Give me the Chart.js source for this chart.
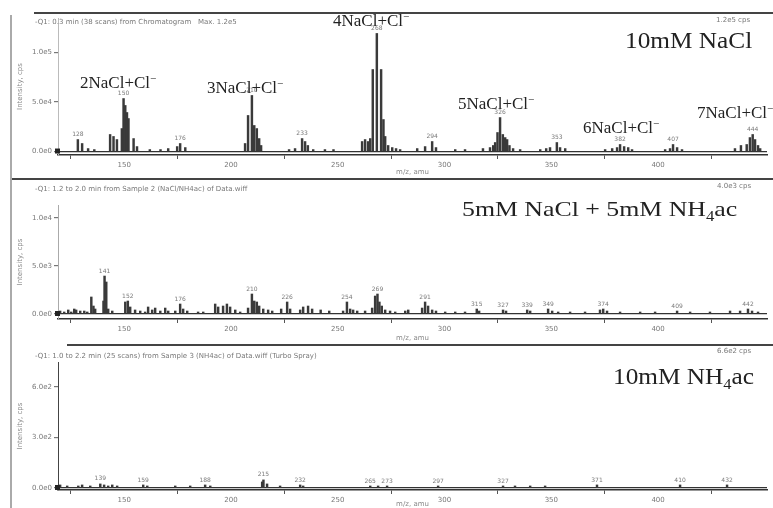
<!DOCTYPE html>
<html>
<head>
<meta charset="utf-8">
<title>NaCl / NH4ac spectra</title>
<script src="https://cdn.jsdelivr.net/npm/chart.js@4.4.1/dist/chart.umd.min.js"></script>
<style>
  body { margin: 0; background: #fff; }
  .wrap { position: relative; width: 773px; height: 508px; overflow: hidden; }
  canvas { position: absolute; left: 0; }
  .rule { position: absolute; background: #444; }
</style>
</head>
<body>
<div class="wrap">
  <canvas id="naclChart" width="773" height="179" style="top:0"></canvas>
  <canvas id="mixChart" width="773" height="166" style="top:179px"></canvas>
  <canvas id="nh4Chart" width="773" height="163" style="top:345px"></canvas>
  <div class="rule" style="left:34px;top:12px;width:739px;height:2px"></div>
  <div class="rule" style="left:10px;top:178px;width:763px;height:2px"></div>
  <div class="rule" style="left:67px;top:344px;width:706px;height:2px"></div>
  <div class="rule" style="left:10px;top:15px;width:1.5px;height:493px;background:#aaa"></div>
</div>
<script>
'use strict';

//横軸 (m/z)
var mzMin = 119, mzMax = 451;
var xTicks = [150, 200, 250, 300, 350, 400];

//10mM NaCl
var naclMz = [128.3, 130.3, 133.1, 136.0, 143.4, 145.0, 146.6, 148.9, 149.7, 150.5, 151.3, 152.0, 154.4, 156.0, 162.0, 167.0, 170.6, 174.8, 176.2, 178.6,
  206.6, 208.0, 209.8, 210.9, 212.1, 213.2, 214.1, 227.2, 230.0, 233.3, 234.7, 236.0, 238.5, 244.0, 248.0,
  261.4, 262.8, 264.2, 265.2, 266.4, 268.3, 270.3, 271.4, 272.2, 273.6, 275.5, 277.3, 279.2, 287.2, 290.9, 294.2, 296.0, 305.0, 309.6,
  318.0, 321.3, 322.8, 323.7, 324.8, 326.0, 327.3, 328.4, 329.3, 330.4, 332.1, 335.4, 344.8, 347.6, 349.4, 352.6, 354.1, 356.5,
  375.2, 378.5, 380.8, 382.2, 384.1, 386.0, 387.8, 403.3, 405.6, 407.0, 408.9, 411.2,
  436.0, 438.8, 441.5, 443.0, 444.3, 445.4, 446.8, 447.8];
var naclInt = [12100, 8100, 3000, 2000, 17200, 15200, 12100, 23200, 53500, 46500, 39400, 33300, 13100, 5000, 2000, 2000, 3000, 5000, 8100, 4000,
  8100, 36400, 56600, 26300, 23200, 13100, 6100, 2000, 3000, 13100, 10100, 6100, 2000, 2000, 2000,
  10100, 12100, 10100, 13100, 82800, 119200, 82800, 32300, 15200, 6100, 4000, 3000, 2000, 3000, 5000, 10100, 4000, 2000, 2000,
  3000, 4000, 6100, 9100, 19200, 34300, 17200, 14100, 12100, 6100, 3000, 2000, 2000, 3000, 4000, 9100, 4000, 3000,
  2000, 3000, 4000, 7100, 5000, 4000, 2000, 2000, 3000, 7100, 4000, 2000,
  3000, 6100, 7100, 14100, 17200, 12100, 6100, 3000];
var naclPeaks = [128.3, 149.7, 176.2, 209.8, 233.3, 268.3, 294.2, 326.0, 352.6, 382.2, 407.0, 444.3];
var naclYTicks = [0, 50000, 100000];
var naclYLabels = ['0.0e0', '5.0e4', '1.0e5'];

//5mM NaCl + 5mM NH4ac
var mixMz = [120.0, 121.9, 123.8, 125.2, 126.6, 127.5, 129.4, 131.3, 132.7, 134.6, 135.6, 136.4, 140.3, 140.8, 141.6, 142.5, 144.4,
  150.5, 151.7, 152.8, 155.1, 157.5, 159.8, 161.2, 163.1, 164.5, 166.9, 169.2, 170.6, 173.9, 176.2, 177.6, 179.5, 184.6, 187.0,
  192.6, 194.0, 196.3, 198.1, 199.6, 202.0, 204.3, 208.0, 209.8, 210.9, 212.1, 213.2, 215.1, 217.4, 219.3, 223.5, 226.3, 227.7,
  232.4, 233.8, 236.1, 238.0, 242.0, 246.0, 252.5, 254.3, 255.8, 257.2, 259.1, 262.8, 266.1, 267.5, 268.6, 269.5, 270.6, 272.2, 274.5, 276.9, 281.6, 283.0,
  289.5, 290.9, 292.3, 294.2, 296.0, 300.3, 305.0, 309.6, 315.1, 316.2, 327.4, 328.8, 338.7, 340.1, 348.5, 350.4, 353.2, 358.8, 365.8,
  372.8, 374.3, 376.1, 382.2, 391.6, 398.6, 408.9, 415.0, 424.3, 433.7, 438.4, 442.1, 444.0, 446.8];
var mixInt = [310, 210, 420, 210, 520, 420, 310, 310, 210, 1770, 830, 520, 1350, 3950, 3330, 520, 310,
  1250, 1350, 730, 420, 310, 210, 730, 420, 620, 310, 620, 310, 310, 1040, 520, 310, 210, 210,
  1040, 730, 830, 1040, 730, 420, 210, 620, 2080, 1350, 1250, 830, 520, 420, 310, 520, 1250, 520,
  420, 730, 830, 520, 420, 310, 310, 1250, 520, 420, 310, 310, 620, 1870, 2080, 1250, 830, 420, 310, 210, 310, 420,
  620, 1250, 830, 420, 310, 210, 210, 210, 520, 310, 420, 310, 420, 310, 520, 310, 210, 210, 210,
  420, 520, 310, 210, 210, 210, 310, 210, 210, 310, 310, 520, 310, 210];
var mixPeaks = [140.8, 151.7, 176.2, 209.8, 226.3, 254.3, 268.6, 290.9, 315.1, 327.4, 338.7, 348.5, 374.3, 408.9, 442.1];
var mixYTicks = [0, 5000, 10000];
var mixYLabels = ['0.0e0', '5.0e3', '1.0e4'];

//10mM NH4ac
var nh4Mz = [120.0, 123.3, 128.5, 130.3, 134.1, 138.8, 140.6, 142.5, 144.4, 146.7, 158.9, 160.8, 173.9, 180.9, 187.9, 190.3,
  214.6, 215.2, 216.9, 223.0, 232.4, 233.8, 265.2, 268.9, 273.1, 297.0, 327.4, 333.0, 340.1, 347.1, 371.4, 410.3, 432.3];
var nh4Int = [18, 12, 12, 18, 12, 24, 18, 12, 18, 12, 18, 12, 12, 12, 18, 12,
  36, 48, 24, 12, 18, 12, 12, 12, 12, 12, 12, 12, 12, 12, 18, 18, 18];
var nh4Peaks = [138.8, 158.9, 187.9, 215.2, 232.4, 265.2, 273.1, 297.0, 327.4, 371.4, 410.3, 432.3];
var nh4YTicks = [0, 300, 600];
var nh4YLabels = ['0.0e0', '3.0e2', '6.0e2'];

Chart.defaults.font.family = '"DejaVu Sans", sans-serif';

//上付き・下付きを含む文字列 (^x / _x)
function richText(c, t) {
  var size = t.size || 7;
  var fam = t.serif ? '"Liberation Serif", serif' : '"DejaVu Sans", sans-serif';
  var parts = t.s.split(/([_^].)/);
  c.save();
  c.translate(t.x, t.y);
  c.scale(t.sx || 1, 1);
  c.fillStyle = t.color || '#777';
  c.textAlign = 'left';
  c.textBaseline = 'alphabetic';
  var x = 0;
  parts.forEach(function(p) {
    if (!p) return;
    var dy = 0, fs = size;
    if (p[0] === '_') { p = p[1]; fs = size * 0.65; dy = size * 0.22; }
    else if (p[0] === '^') { p = p[1]; fs = size * 0.65; dy = -size * 0.38; }
    c.font = fs + 'px ' + fam;
    c.fillText(p, x, dy);
    x += c.measureText(p).width;
  });
  c.restore();
}

//ピーク番号と注記
var notes = {
  id: 'notes',
  afterDraw: function(chart, args, opts) {
    var c = chart.ctx, xs = chart.scales.x, ys = chart.scales.y;
    var pts = chart.data.datasets[0].data;
    c.save();
    c.fillStyle = '#222';
    c.fillRect(xs.left - 3, ys.getPixelForValue(0) - 3, 5, 5);
    c.font = '6px "DejaVu Sans"';
    c.fillStyle = '#7a7a7a';
    c.textAlign = 'center';
    c.textBaseline = 'bottom';
    opts.peaks.forEach(function(m) {
      var p = pts.find(function(d) { return d.x === m; });
      c.fillText(String(Math.round(m)), xs.getPixelForValue(m), ys.getPixelForValue(p.y) - 2);
    });
    c.restore();
    opts.texts.forEach(function(t) { richText(c, t); });
  }
};

function spectrum(id, mz, inten, cfg) {
  var points = mz.map(function(m, i) { return {x: m, y: inten[i]}; });
  return new Chart(document.getElementById(id), {
    type: 'bar',
    data: {
      datasets: [{
        data: points,
        backgroundColor: '#3a3a3a',
        barThickness: 1.8
      }]
    },
    options: {
      responsive: false,
      animation: false,
      layout: { padding: { left: 12, right: 6, top: cfg.top, bottom: 0 } },
      plugins: {
        legend: { display: false },
        tooltip: { enabled: false },
        notes: { peaks: cfg.peaks, texts: cfg.texts }
      },
      scales: {
        x: {
          type: 'linear',
          min: mzMin,
          max: mzMax,
          offset: false,
          afterBuildTicks: function(s) { s.ticks = xTicks.map(function(v) { return {value: v}; }); },
          afterFit: function(s) { s.height = cfg.xHeight; },
          grid: { drawOnChartArea: false, tickLength: 4, color: '#555' },
          border: { color: '#333', width: 1.5 },
          ticks: { font: { size: 7 }, color: '#777', padding: 2, maxRotation: 0, callback: function(v) { return String(v); } },
          title: { display: true, text: 'm/z, amu', font: { size: 7 }, color: '#888', padding: { top: 0, bottom: cfg.titlePad } }
        },
        y: {
          min: cfg.yMin,
          max: cfg.yMax,
          afterBuildTicks: function(s) { s.ticks = cfg.yTicks.map(function(v) { return {value: v}; }); },
          afterFit: function(s) { s.width = 46; },
          grid: {
            color: function(ctx) { return ctx.tick && ctx.tick.value === 0 ? '#333' : 'rgba(0,0,0,0)'; },
            lineWidth: 1.2,
            tickLength: 4,
            tickColor: '#777'
          },
          border: { color: cfg.yBorder, width: 1 },
          ticks: { font: { size: 7 }, color: '#777', padding: 2, callback: function(v) { return cfg.yLabels[cfg.yTicks.indexOf(v)]; } },
          title: { display: true, text: 'Intensity, cps', font: { size: 7 }, color: '#888' }
        }
      }
    },
    plugins: [notes]
  });
}

//上段
spectrum('naclChart', naclMz, naclInt, {
  top: 18, xHeight: 24, titlePad: 3, yMin: -3500, yMax: 134800, yBorder: '#bbb',
  yTicks: naclYTicks, yLabels: naclYLabels, peaks: naclPeaks,
  texts: [
    { s: '-Q1: 0.3 min (38 scans) from Chromatogram   Max. 1.2e5', x: 35, y: 24 },
    { s: '1.2e5 cps', x: 716, y: 22 },
    { s: '10mM NaCl', x: 625, y: 48, size: 23, sx: 1.1, serif: true, color: '#222' },
    { s: '2NaCl+Cl^\u2212', x: 80, y: 88, size: 17, serif: true, color: '#222' },
    { s: '3NaCl+Cl^\u2212', x: 207, y: 93, size: 17, serif: true, color: '#222' },
    { s: '4NaCl+Cl^\u2212', x: 333, y: 26, size: 17, serif: true, color: '#222' },
    { s: '5NaCl+Cl^\u2212', x: 458, y: 109, size: 17, serif: true, color: '#222' },
    { s: '6NaCl+Cl^\u2212', x: 583, y: 133, size: 17, serif: true, color: '#222' },
    { s: '7NaCl+Cl^\u2212', x: 697, y: 118, size: 17, serif: true, color: '#222' }
  ]
});

//中段
spectrum('mixChart', mixMz, mixInt, {
  top: 26, xHeight: 26, titlePad: 3, yMin: -520, yMax: 11340, yBorder: '#aaa',
  yTicks: mixYTicks, yLabels: mixYLabels, peaks: mixPeaks,
  texts: [
    { s: '-Q1: 1.2 to 2.0 min from Sample 2 (NaCl/NH4ac) of Data.wiff', x: 35, y: 12 },
    { s: '4.0e3 cps', x: 717, y: 9 },
    { s: '5mM NaCl + 5mM NH_4ac', x: 462, y: 37, size: 21.5, sx: 1.2, serif: true, color: '#222' }
  ]
});

//下段
spectrum('nh4Chart', nh4Mz, nh4Int, {
  top: 17, xHeight: 18, titlePad: 0, yMin: -12, yMax: 748, yBorder: '#444',
  yTicks: nh4YTicks, yLabels: nh4YLabels, peaks: nh4Peaks,
  texts: [
    { s: '-Q1: 1.0 to 2.2 min (25 scans) from Sample 3 (NH4ac) of Data.wiff (Turbo Spray)', x: 35, y: 13 },
    { s: '6.6e2 cps', x: 717, y: 8 },
    { s: '10mM NH_4ac', x: 613, y: 39, size: 23, sx: 1.1, serif: true, color: '#222' }
  ]
});
</script>
</body>
</html>
